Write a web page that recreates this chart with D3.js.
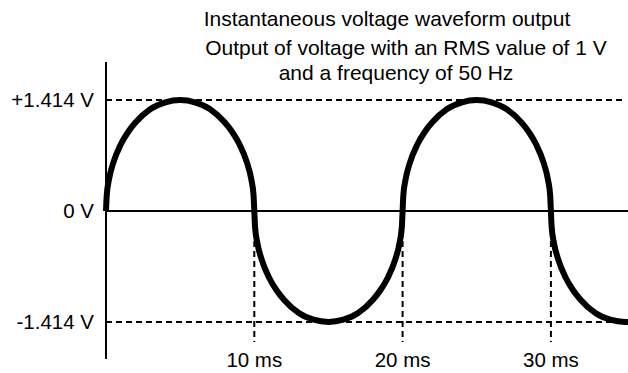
<!DOCTYPE html>
<html>
<head>
<meta charset="utf-8">
<script src="https://cdn.jsdelivr.net/npm/d3@7"></script>
<style>
  html, body { margin: 0; padding: 0; background: #fff; }
  svg { display: block; font-family: "Liberation Sans", Arial, sans-serif; }
</style>
</head>
<body>
<svg id="chart" width="628" height="373"></svg>
<script>
// Sampled waveform: time in ms, instantaneous voltage in V
const timeMs = [
  0, 0.05, 0.2, 0.5, 1, 1.5, 2, 3, 4, 5, 6, 7, 8, 8.5, 9, 9.5, 9.8, 9.95,
  10, 10.05, 10.2, 10.5, 11, 11.5, 12, 13, 14, 15, 16, 17, 18, 18.5, 19, 19.5, 19.8, 19.95,
  20, 20.05, 20.2, 20.5, 21, 21.5, 22, 23, 24, 25, 26, 27, 28, 28.5, 29, 29.5, 29.8, 29.95,
  30, 30.05, 30.2, 30.5, 31, 31.5, 32, 33, 34, 35, 35.2
];
const voltage = [
  0, 0.20, 0.40, 0.62, 0.85, 1.01, 1.13, 1.30, 1.385, 1.414, 1.385, 1.30, 1.13, 1.01, 0.85, 0.62, 0.40, 0.20,
  0, -0.20, -0.40, -0.62, -0.85, -1.01, -1.13, -1.30, -1.385, -1.414, -1.385, -1.30, -1.13, -1.01, -0.85, -0.62, -0.40, -0.20,
  0, 0.20, 0.40, 0.62, 0.85, 1.01, 1.13, 1.30, 1.385, 1.414, 1.385, 1.30, 1.13, 1.01, 0.85, 0.62, 0.40, 0.20,
  0, -0.20, -0.40, -0.62, -0.85, -1.01, -1.13, -1.30, -1.385, -1.414, -1.413
];
const yTickValues = [1.414, 0, -1.414];
const yTickLabels = ["+1.414 V", "0 V", "-1.414 V"];
const xTickValues = [10, 20, 30];
const xTickLabels = ["10 ms", "20 ms", "30 ms"];
const titleLines = [
  "Instantaneous voltage waveform output",
  "Output of voltage with an RMS value of 1 V",
  "and a frequency of 50 Hz"
];

const svg = d3.select("#chart");
const W = 628;
const x = d3.scaleLinear().domain([0, 10]).range([106, 254.3]);
const y = d3.scaleLinear().domain([-1.414, 1.414]).range([322, 100]);

const titleFont = 21;
const labelFont = 20.5;

// Title block
const titleX = [387, 406, 396];
const titleY = [26, 55, 80];
svg.selectAll("text.title").data(titleLines).enter().append("text")
  .attr("class", "title")
  .attr("x", (d, i) => titleX[i]).attr("y", (d, i) => titleY[i])
  .attr("text-anchor", "middle").attr("font-size", titleFont).attr("fill", "#000")
  .text(d => d);

// Dashed reference lines at the peak voltages
svg.selectAll("line.peak").data([1.414, -1.414]).enter().append("line")
  .attr("class", "peak")
  .attr("x1", x(0)).attr("x2", 626)
  .attr("y1", d => y(d)).attr("y2", d => y(d))
  .attr("stroke", "#000").attr("stroke-width", 2).attr("stroke-dasharray", "6,4");

// Dashed markers at each 10 ms
svg.selectAll("line.tmark").data(xTickValues).enter().append("line")
  .attr("class", "tmark")
  .attr("x1", d => x(d)).attr("x2", d => x(d))
  .attr("y1", y(0)).attr("y2", 342)
  .attr("stroke", "#000").attr("stroke-width", 2).attr("stroke-dasharray", "6,4");

// Zero line
svg.append("line")
  .attr("x1", x(0)).attr("x2", W)
  .attr("y1", y(0)).attr("y2", y(0))
  .attr("stroke", "#000").attr("stroke-width", 2);

// Vertical axis
svg.append("line")
  .attr("x1", x(0)).attr("x2", x(0))
  .attr("y1", 62).attr("y2", 359)
  .attr("stroke", "#000").attr("stroke-width", 2);

// Waveform
const pts = timeMs.map((t, i) => [t, voltage[i]]);
const line = d3.line().x(d => x(d[0])).y(d => y(d[1])).curve(d3.curveMonotoneX);
svg.append("path").datum(pts)
  .attr("d", line)
  .attr("fill", "none").attr("stroke", "#000").attr("stroke-width", 6)
  .attr("stroke-linejoin", "round");

// Voltage labels
svg.selectAll("text.ylab").data(yTickValues).enter().append("text")
  .attr("class", "ylab")
  .attr("x", 94).attr("y", d => y(d)).attr("dy", "0.35em")
  .attr("text-anchor", "end").attr("font-size", labelFont).attr("fill", "#000")
  .text((d, i) => yTickLabels[i]);

// Time labels
svg.selectAll("text.xlab").data(xTickValues).enter().append("text")
  .attr("class", "xlab")
  .attr("x", d => x(d)).attr("y", 367)
  .attr("text-anchor", "middle").attr("font-size", labelFont).attr("fill", "#000")
  .text((d, i) => xTickLabels[i]);
</script>
</body>
</html>
